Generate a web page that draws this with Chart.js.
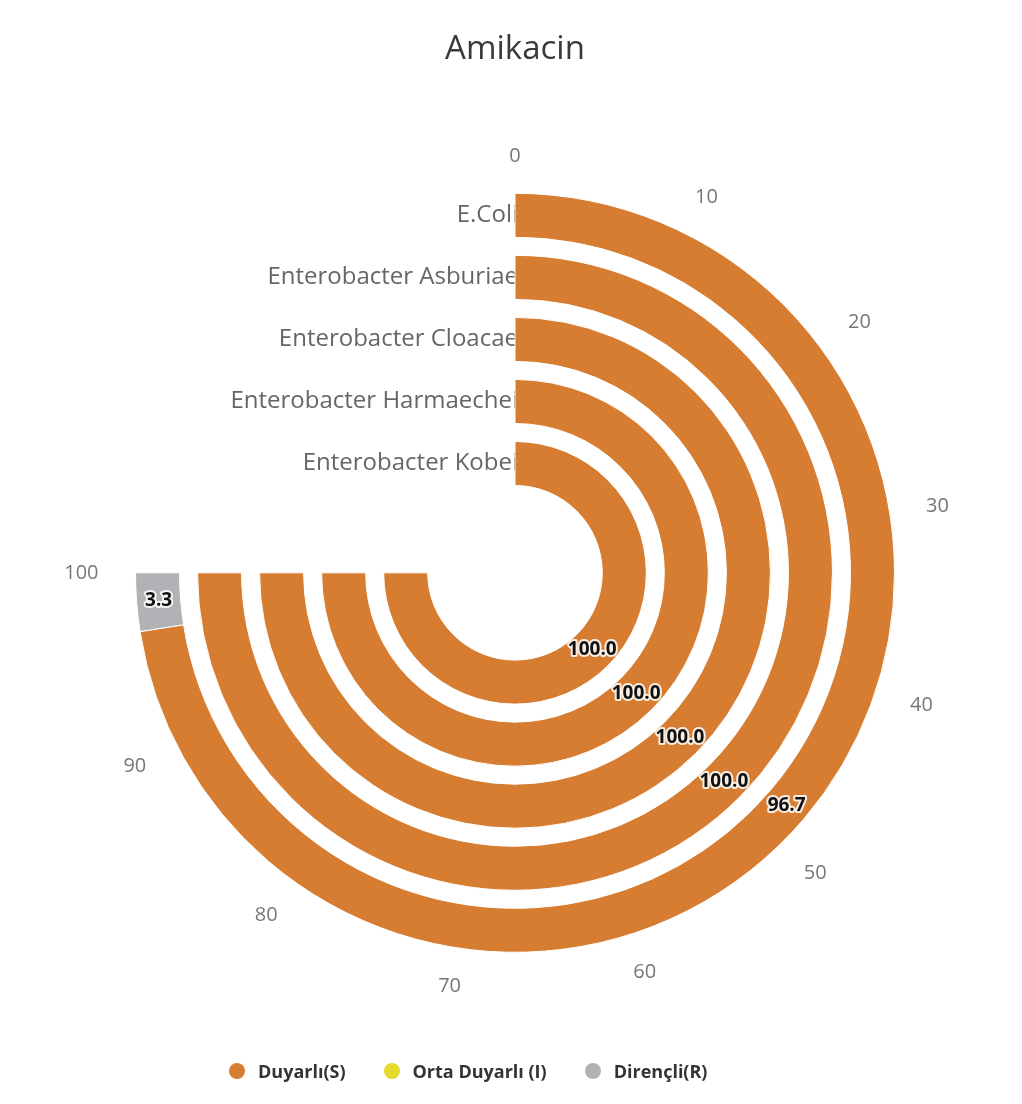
<!DOCTYPE html>
<html>
<head>
<meta charset="utf-8">
<title>Amikacin</title>
<script src="https://cdn.jsdelivr.net/npm/chart.js@4.4.1/dist/chart.umd.min.js"></script>
<style>
    body { margin: 0; background: #fff; font-family: 'Open Sans', 'DejaVu Sans', sans-serif; }
    #wrap { position: relative; width: 1022px; height: 1104px; }
    #legend { position: absolute; left: 229px; top: 1059px; display: flex; align-items: center; }
    #legend .item { display: flex; align-items: center; margin-right: 38px; font-size: 18px; font-weight: 700; color: #333; }
    #legend .dot { width: 16px; height: 16px; border-radius: 50%; margin-right: 13px; }
</style>
</head>
<body>
<div id="wrap">
    <canvas id="chartAmikacin"></canvas>
    <div id="legend"></div>
</div>
<script>
// Bakteri türleri (dıştan içe halkalar)
const bakteriler = ['E.Coli', 'Enterobacter Asburiae', 'Enterobacter Cloacae', 'Enterobacter Harmaechei', 'Enterobacter Kobei'];
const kategoriler = ['Duyarlı(S)', 'Orta Duyarlı (I)', 'Dirençli(R)'];

// Yüzde değerleri
const duyarli     = [96.7, 100, 100, 100, 100];
const ortaDuyarli = [0, 0, 0, 0, 0];
const direncli    = [3.3, 0, 0, 0, 0];

const eksenEtiketleri = [0, 10, 20, 30, 40, 50, 60, 70, 80, 90, 100];
const renkler = ['#D67D32', '#E8DA2A', '#B0B2B5'];

const YAY_DERECE = 270;   // 0..100 aralığı 270 derecelik yaya yayılıyor

// Her bakteri için bir halka, aralarına boş (şeffaf) halka
let datasets = [];
bakteriler.forEach((b, i) => {
    datasets.push({
        label: b,
        data: [duyarli[i], ortaDuyarli[i], direncli[i]],
        backgroundColor: renkler,
        borderColor: '#ffffff',
        borderWidth: 1,
        weight: 44
    });
    if (i < bakteriler.length - 1) {
        datasets.push({ label: '', bosluk: true, data: [100], backgroundColor: 'rgba(0,0,0,0)', borderWidth: 0, weight: 18 });
    }
});

const halkaYazilari = {
    id: 'halkaYazilari',
    beforeDatasetsDraw(chart) {
        // bakteri adları halkaların başlangıcının solunda, halkanın altında kalacak şekilde
        const ctx = chart.ctx;
        ctx.save();
        ctx.font = "24px 'Open Sans', sans-serif";
        ctx.fillStyle = '#666';
        ctx.textAlign = 'right';
        ctx.textBaseline = 'middle';
        chart.data.datasets.forEach((ds, i) => {
            if (ds.bosluk) return;
            const arc = chart.getDatasetMeta(i).data[0];
            const r = (arc.innerRadius + arc.outerRadius) / 2;
            ctx.fillText(ds.label, arc.x + 3, arc.y - r);
        });
        ctx.restore();
    },
    afterDatasetsDraw(chart) {
        const ctx = chart.ctx;
        const ilk = chart.getDatasetMeta(0).data[0];
        const cx = ilk.x, cy = ilk.y;
        const baslangic = -Math.PI / 2;
        const toplam = YAY_DERECE * Math.PI / 180;

        // eksen etiketleri (0 - 100)
        ctx.save();
        ctx.font = "20px 'Open Sans', sans-serif";
        ctx.fillStyle = '#777';
        ctx.textAlign = 'center';
        ctx.textBaseline = 'middle';
        eksenEtiketleri.forEach(v => {
            const a = baslangic + v / 100 * toplam;
            const w = ctx.measureText(String(v)).width;
            const r = ilk.outerRadius + 37 + Math.abs(Math.cos(a)) * w / 2;
            ctx.fillText(String(v), cx + r * Math.cos(a), cy + r * Math.sin(a));
        });
        ctx.restore();

        // değer etiketleri, dilimin ortasında
        ctx.save();
        ctx.font = "bold 19px 'Open Sans', sans-serif";
        ctx.textAlign = 'center';
        ctx.textBaseline = 'middle';
        ctx.lineJoin = 'round';
        chart.data.datasets.forEach((ds, i) => {
            if (ds.bosluk) return;
            chart.getDatasetMeta(i).data.forEach((arc, j) => {
                const v = ds.data[j];
                if (!v) return;
                const a = (arc.startAngle + arc.endAngle) / 2;
                const r = (arc.innerRadius + arc.outerRadius) / 2;
                const x = arc.x + r * Math.cos(a), y = arc.y + r * Math.sin(a);
                const t = v.toFixed(1);
                ctx.strokeStyle = 'rgba(255,255,255,0.85)';
                ctx.lineWidth = 4;
                ctx.strokeText(t, x, y);
                ctx.fillStyle = '#111';
                ctx.fillText(t, x, y);
            });
        });
        ctx.restore();
    }
};

const ctx = document.getElementById('chartAmikacin').getContext('2d');
const grafik = new Chart(ctx, {
    type: 'doughnut',
    data: { labels: kategoriler, datasets: datasets },
    options: {
        responsive: true,
        maintainAspectRatio: false,
        animation: false,
        rotation: 0,
        circumference: YAY_DERECE,
        cutout: '23%',
        layout: { padding: { left: 135, right: 127, top: 0, bottom: 151 } },
        plugins: {
            title: {
                display: true,
                text: 'Amikacin',
                color: '#3a3a3a',
                font: { family: "'Open Sans', sans-serif", size: 33, weight: 'normal' },
                padding: { top: 30, bottom: 123 }
            },
            legend: { display: false },
            tooltip: { enabled: false }
        }
    },
    plugins: [halkaYazilari]
});

// lejant
const lejant = document.getElementById('legend');
kategoriler.forEach((k, i) => {
    const el = document.createElement('div');
    el.className = 'item';
    el.innerHTML = '<span class="dot" style="background:' + renkler[i] + '"></span>' + k;
    lejant.appendChild(el);
});
</script>
</body>
</html>
